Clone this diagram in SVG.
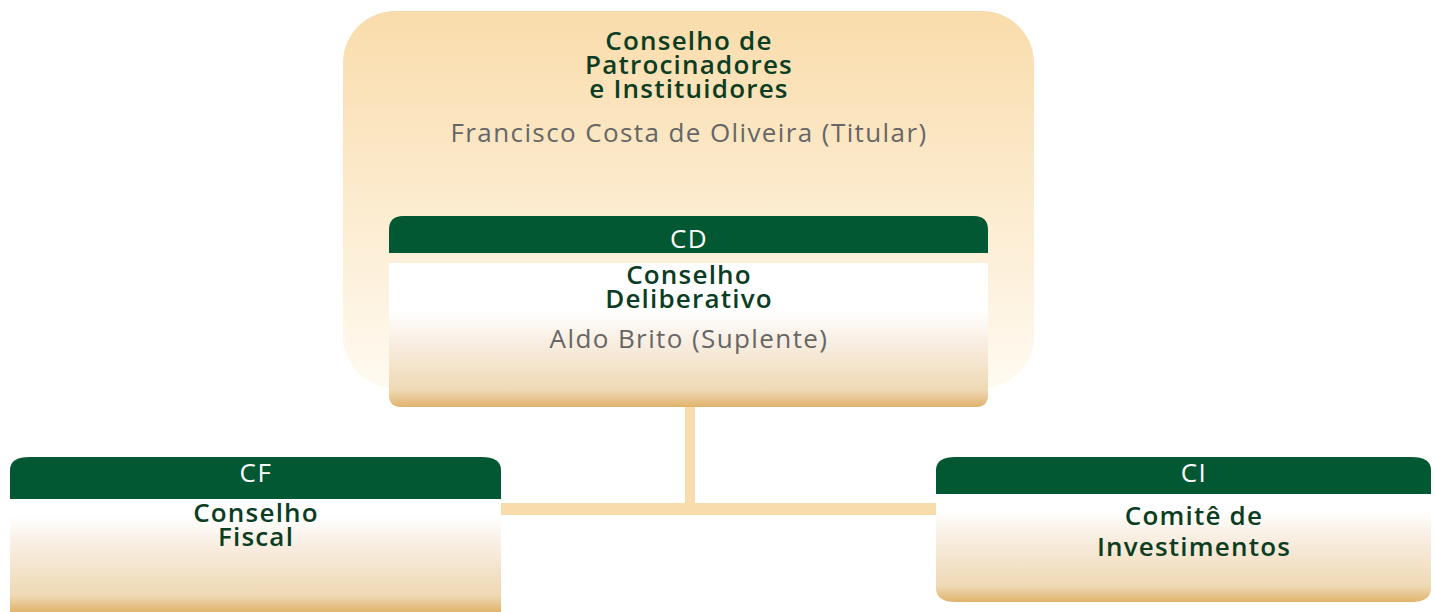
<svg xmlns="http://www.w3.org/2000/svg" width="1435" height="612" viewBox="0 0 1435 612">
<defs>
<linearGradient id="outer" x1="0" y1="0" x2="0" y2="1">
<stop offset="0" stop-color="#f9dcab"/>
<stop offset="1" stop-color="#fffaf1"/>
</linearGradient>
<linearGradient id="body" x1="0" y1="0" x2="0" y2="1">
<stop offset="0" stop-color="#ffffff"/>
<stop offset="0.33" stop-color="#ffffff"/>
<stop offset="0.55" stop-color="#f8eee2"/>
<stop offset="0.88" stop-color="#efd9b5"/>
<stop offset="1" stop-color="#e0b36c"/>
</linearGradient>
<linearGradient id="bodyCF" x1="0" y1="0" x2="0" y2="1">
<stop offset="0" stop-color="#ffffff"/>
<stop offset="0.15" stop-color="#ffffff"/>
<stop offset="0.4" stop-color="#f8eee2"/>
<stop offset="0.85" stop-color="#efd9b5"/>
<stop offset="1" stop-color="#e0b36c"/>
</linearGradient>
</defs>
<style>
.hdr{fill:#015832}
.t{font-family:"Open Sans","Liberation Sans",sans-serif;text-anchor:middle}
.title{fill:#0b3d23;font-weight:600;font-size:26px;letter-spacing:1.2px}
.name{fill:#666666;font-size:26px;letter-spacing:1.4px}
.code{fill:#ffffff;font-size:26px;font-weight:500;letter-spacing:1.5px}
.conn{fill:#f9dcab}
</style>
<g id="connectors">
<rect class="conn" x="685" y="407" width="10" height="100"/>
<rect class="conn" x="501" y="503" width="435" height="12"/>
</g>
<g id="outer-node">
<rect x="343" y="11" width="691" height="377" rx="52" fill="url(#outer)"/>
<text class="t title"><tspan x="689" y="50">Conselho de</tspan><tspan x="689" y="74">Patrocinadores</tspan><tspan x="689" y="98">e Instituidores</tspan></text>
<text class="t name" x="689" y="142">Francisco Costa de Oliveira (Titular)</text>
</g>
<g id="cd-node">
<path class="hdr" d="M389,253 V230 Q389,216 403,216 H974 Q988,216 988,230 V253 Z"/>
<path d="M389,263 H988 V395 Q988,407 976,407 H401 Q389,407 389,395 Z" fill="url(#body)"/>
<text class="t code" x="689" y="248">CD</text>
<text class="t title"><tspan x="689" y="284">Conselho</tspan><tspan x="689" y="308">Deliberativo</tspan></text>
<text class="t name" x="689" y="348">Aldo Brito (Suplente)</text>
</g>
<g id="cf-node">
<path class="hdr" d="M10,499 V470 Q10,457 30,457 H481 Q501,457 501,470 V499 Z"/>
<path d="M10,499 H501 V612 H10 Z" fill="url(#bodyCF)"/>
<text class="t code" x="256" y="482">CF</text>
<text class="t title"><tspan x="256" y="522">Conselho</tspan><tspan x="256" y="546">Fiscal</tspan></text>
</g>
<g id="ci-node">
<path class="hdr" d="M936,494 V470 Q936,457 956,457 H1411 Q1431,457 1431,470 V494 Z"/>
<path d="M936,494 H1431 V588 Q1431,602 1411,602 H956 Q936,602 936,588 Z" fill="url(#bodyCF)"/>
<text class="t code" x="1194" y="482">CI</text>
<text class="t title"><tspan x="1194" y="525">Comitê de</tspan><tspan x="1194" y="556">Investimentos</tspan></text>
</g>
</svg>
